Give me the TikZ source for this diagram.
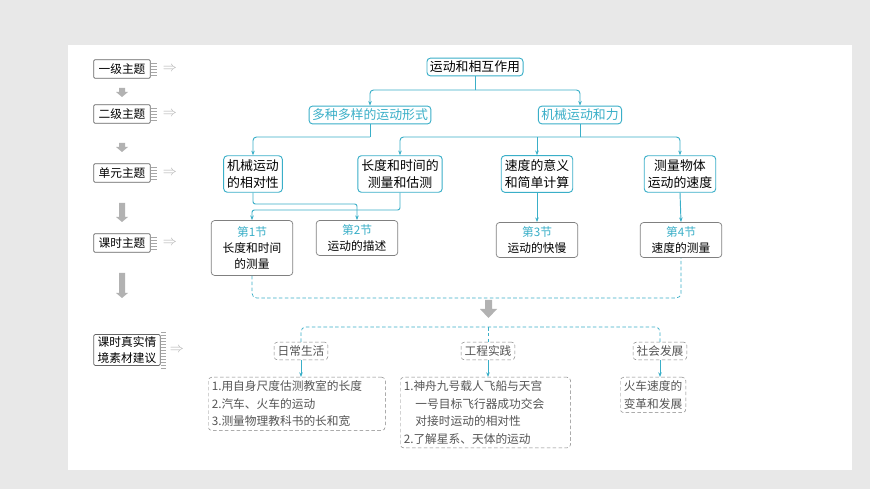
\documentclass[tikz,border=0pt]{standalone}
\usepackage{fontspec}
\setmainfont{Noto Sans CJK SC}
\usetikzlibrary{arrows.meta}
\definecolor{teal1}{HTML}{3AAFC8}
\definecolor{txtgray}{HTML}{555555}
\tikzset{
  topbox/.style = {draw=teal1, rounded corners=3pt, line width=0.8pt, inner sep=2.5pt, font=\fontsize{11}{13}\selectfont},
  secbox/.style = {topbox, text=teal1},
  unitbox/.style = {topbox, align=center, inner sep=3pt, font=\fontsize{11}{15}\selectfont},
  lessbox/.style = {draw=gray, rounded corners=3pt, line width=0.6pt, align=center, font=\fontsize{10}{14}\selectfont},
  legbox/.style = {draw=gray!80!black, rounded corners=1pt, line width=0.6pt, inner sep=2pt, font=\fontsize{10}{13}\selectfont, align=center},
  catbox/.style = {draw=gray, densely dashed, rounded corners=3pt, text=txtgray, font=\fontsize{10}{13}\selectfont, inner sep=3pt},
  itembox/.style = {catbox, align=left, font=\fontsize{10}{15}\selectfont},
  link/.style = {teal1, line width=0.8pt, -{Stealth[length=4pt]}},
  dlink/.style = {teal1, densely dashed, line width=0.6pt},
  bigdown/.style = {fill=gray!70, draw=none}
}
\begin{document}
\begin{tikzpicture}[x=0.03cm, y=-0.03cm]
\useasboundingbox (0,0) rectangle (870,489);
\fill[gray!18] (0,0) rectangle (870,489);
\fill[white] (68,45) rectangle (852,470);

% legend column
\foreach \name/\y/\txt in {lA/69/一级主题, lB/114/二级主题, lC/173/单元主题, lD/243/课时主题}{
  \node[legbox, minimum width=1.7cm, minimum height=0.55cm] (\name) at (122,\y) {\txt};
  \foreach \k in {-6,-3,...,6} \draw[gray!70, line width=0.3pt] (151,\y+\k) -- (157,\y+\k);
  \node[gray!60, font=\fontsize{13}{13}\selectfont] at (170,\y) {$\Rightarrow$};
}
\node[legbox, text width=1.85cm] (lE) at (127,350) {课时真实情\\境素材建议};
\foreach \k in {-18,-15,...,18} \draw[gray!70, line width=0.3pt] (161,350+\k) -- (166,350+\k);
\node[gray!60, font=\fontsize{13}{13}\selectfont] at (177,350) {$\Rightarrow$};
\foreach \a/\b in {88/97, 143/152, 203/222, 273/298}
  \fill[gray!60] (119,\a) rectangle (125,\b-5) (116,\b-5) -- (128,\b-5) -- (122,\b) -- cycle;

% main tree
\node[topbox] (root) at (475,67) {运动和相互作用};
\node[secbox] (forms) at (370,115) {多种多样的运动形式};
\node[secbox] (mech) at (580,115) {机械运动和力};
\node[unitbox] (u1) at (253,174) {机械运动\\的相对性};
\node[unitbox] (u2) at (400,174) {长度和时间的\\测量和估测};
\node[unitbox] (u3) at (537,174) {速度的意义\\和简单计算};
\node[unitbox] (u4) at (680,174) {测量物体\\运动的速度};
\node[lessbox, minimum width=2.45cm, minimum height=1.65cm] (s1) at (252,248) {{\color{teal1}第1节}\\长度和时间\\的测量};
\node[lessbox, minimum width=2.45cm, minimum height=1.05cm] (s2) at (357,238) {{\color{teal1}第2节}\\运动的描述};
\node[lessbox, minimum width=2.45cm, minimum height=1.05cm] (s3) at (537,240) {{\color{teal1}第3节}\\运动的快慢};
\node[lessbox, minimum width=2.45cm, minimum height=1.05cm] (s4) at (681,240) {{\color{teal1}第4节}\\速度的测量};

\draw[teal1, line width=0.8pt] (root.south) -- (475,90);
\draw[link, rounded corners=3pt] (475,90) -| (forms.north);
\draw[link, rounded corners=3pt] (475,90) -| (mech.north);
\draw[teal1, line width=0.8pt] (forms.south) |- (370,137);
\draw[link, rounded corners=3pt] (370,137) -| (u1.north);
\draw[teal1, line width=0.8pt] (mech.south) -- (580,137);
\draw[link, rounded corners=3pt] (580,137) -| (u2.north);
\draw[link, rounded corners=3pt] (580,137) -| (u4.north);
\draw[link] (537,137) -- (u3.north);
\draw[link, rounded corners=2pt] (u1.south) |- (357,204) -- (s2.north);
\draw[link, rounded corners=2pt] (u2.south) |- (252,210) -- (s1.north);
\draw[link] (u3.south) -- (s3.north);
\draw[link] (u4.south) -- (s4.north);
\draw[dlink, rounded corners=4pt] (s1.south) |- (681,298) -- (s4.south);

\fill[gray!60] (485,300) rectangle (492,309) (480,309) -- (497,309) -- (488.5,318) -- cycle;

% materials
\node[catbox] (c1) at (301,351) {日常生活};
\node[catbox] (c2) at (488,351) {工程实践};
\node[catbox] (c3) at (660,351) {社会发展};
\draw[dlink, rounded corners=4pt] (c1.north) |- (488,327) -| (c3.north);
\draw[dlink] (488,327) -- (c2.north);
\node[itembox, anchor=north west, text width=5.1cm] (m1) at (208,377)
  {1.用自身尺度估测教室的长度\\2.汽车、火车的运动\\3.测量物理教科书的长和宽};
\node[itembox, anchor=north west, text width=4.9cm] (m2) at (400,377)
  {1.神舟九号载人飞船与天宫\\\hspace*{1em}一号目标飞行器成功交会\\\hspace*{1em}对接时运动的相对性\\2.了解星系、天体的运动};
\node[itembox, anchor=north west] (m3) at (620,377) {火车速度的\\变革和发展};
\draw[link, line width=0.6pt] (c1.south) -- (m1.north -| c1.south);
\draw[link, line width=0.6pt] (c2.south) -- (m2.north -| c2.south);
\draw[link, line width=0.6pt] (c3.south) -- (m3.north -| c3.south);
\end{tikzpicture}
\end{document}
